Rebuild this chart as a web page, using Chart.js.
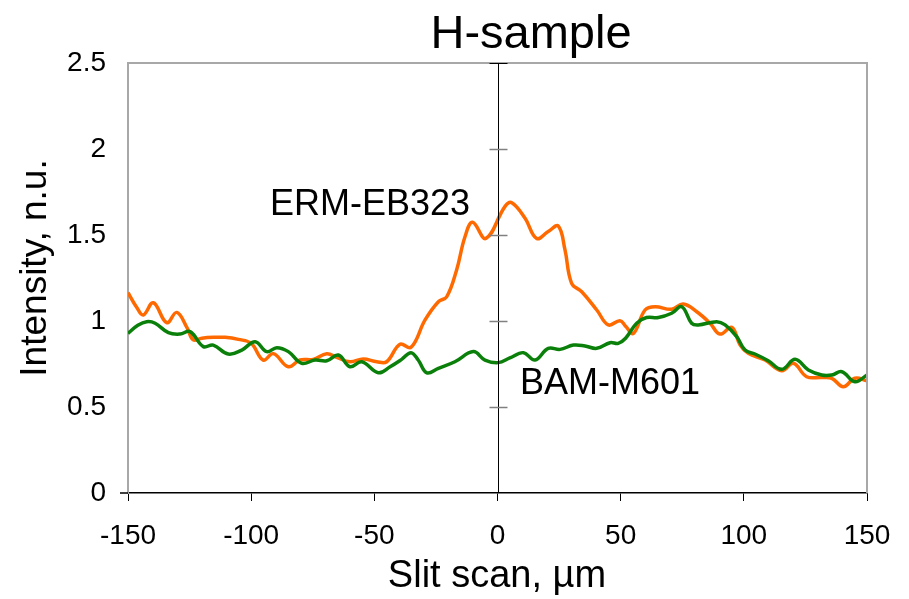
<!DOCTYPE html>
<html>
<head>
<meta charset="utf-8">
<title>H-sample</title>
<script src="https://cdn.jsdelivr.net/npm/chart.js@4.4.1/dist/chart.umd.min.js"></script>
<style>
  html, body { margin: 0; padding: 0; background: #fff; }
  #wrap { width: 909px; height: 599px; }
</style>
</head>
<body>
<div id="wrap"><canvas id="c" width="909" height="599"></canvas></div>
<script>
// H-sample slit scan: two profiles, ERM-EB323 (orange) and BAM-M601 (green)

const xTicks = [-150, -100, -50, 0, 50, 100, 150];
const yTicks = [0, 0.5, 1, 1.5, 2, 2.5];

const ermX = [-150, -146.5, -143.8, -139.7, -134.3, -130.2, -126, -123.5, -120, -115, -110.6, -105.2, -100,
  -95.1, -91, -84.9, -80.2, -74.8, -69.3, -65.3, -59.9, -54.5, -49, -45, -39.6, -35.1, -29.4, -24, -20.6,
  -16.6, -13.2, -10.1, -4.7, 3.0, 5.8, 11.2, 15.9, 20.6, 24.7, 27.4, 30.1, 34.2, 40.3, 45, 49.7, 52, 55.2,
  59.9, 64, 70.7, 75.4, 80.9, 86.3, 90.3, 95.1, 98.5, 101.8, 108.6, 115.4, 120.1, 125.5, 131.6, 135.7,
  140.4, 145.1, 150];
const ermY = [1.165, 1.08, 1.035, 1.106, 0.99, 1.05, 0.96, 0.89, 0.90, 0.905, 0.905, 0.893, 0.87,
  0.773, 0.81, 0.734, 0.773, 0.777, 0.81, 0.789, 0.763, 0.779, 0.763, 0.763, 0.865, 0.847, 1.006, 1.112, 1.141,
  1.297, 1.49, 1.574, 1.48, 1.665, 1.688, 1.597, 1.48, 1.52, 1.552, 1.413, 1.219, 1.17, 1.064, 0.977, 1.002, 0.97, 0.928,
  1.064, 1.083, 1.068, 1.099, 1.054, 0.987, 0.924, 0.963, 0.86, 0.812, 0.773, 0.711, 0.754, 0.676, 0.672, 0.667,
  0.618, 0.667, 0.653];

const bamX = [-150, -146, -142.4, -139, -133.6, -128.9, -124.8, -119.4, -115.4, -109.3, -103.8, -98.4, -93.7,
  -89.6, -84.9, -79.5, -74.1, -69.3, -64.6, -59.9, -55.1, -48.4, -43.6, -38.9, -35.1, -32.2, -28.7, -24, -17.3,
  -9.8, -5.1, 0.3, 5, 10.5, 15.2, 20.6, 25.4, 30.8, 35.5, 40.3, 45.7, 49, 52, 56.5, 60.5, 65.3, 70.7, 74.8,
  78.8, 81.5, 89, 92.4, 97.1, 100.5, 104.5, 109.9, 115.4, 120.8, 126.2, 131.6, 135.7, 139.8, 145.1, 150];
const bamY = [0.928, 0.975, 0.996, 0.987, 0.932, 0.924, 0.938, 0.851, 0.86, 0.808, 0.831, 0.88, 0.822,
  0.845, 0.822, 0.754, 0.773, 0.769, 0.802, 0.734, 0.763, 0.699, 0.734, 0.777, 0.816, 0.773, 0.699, 0.725, 0.763,
  0.822, 0.773, 0.758, 0.785, 0.816, 0.773, 0.841, 0.835, 0.86, 0.855, 0.841, 0.874, 0.87, 0.9, 0.987, 1.02, 1.02, 1.045, 1.083,
  0.987, 0.977, 0.996, 0.977, 0.909, 0.831, 0.808, 0.769, 0.719, 0.777, 0.715, 0.686, 0.686, 0.705, 0.647, 0.686];

const FONT = '"Liberation Sans", Arial, Helvetica, sans-serif';

// рамка, центральная ось с засечками, подписи
const decorPlugin = {
  id: 'decor',
  afterDraw(chart) {
    const { ctx, chartArea: a, scales } = chart;
    const xs = scales.x, ys = scales.y;
    ctx.save();
    // серые стороны рамки
    ctx.strokeStyle = '#a8a8a8';
    ctx.lineWidth = 2;
    ctx.beginPath();
    ctx.moveTo(a.left, a.top); ctx.lineTo(a.right, a.top); ctx.lineTo(a.right, a.bottom);
    ctx.stroke();
    // центральная вертикаль x=0
    const x0 = Math.round(xs.getPixelForValue(0)) + 0.5;
    ctx.strokeStyle = '#000';
    ctx.lineWidth = 1;
    ctx.beginPath();
    ctx.moveTo(x0, a.top); ctx.lineTo(x0, a.bottom);
    ctx.stroke();
    yTicks.forEach(v => {
      if (v === 0) return;
      const py = Math.round(ys.getPixelForValue(v)) + 0.5;
      ctx.strokeStyle = v === 2.5 ? '#000' : '#808080';
      ctx.lineWidth = v === 2.5 ? 1 : 1.5;
      ctx.beginPath();
      ctx.moveTo(x0 - 9, py); ctx.lineTo(x0 + 9, py);
      ctx.stroke();
    });
    // засечка слева у нуля
    ctx.strokeStyle = '#000';
    ctx.lineWidth = 1.5;
    ctx.beginPath();
    ctx.moveTo(a.left - 8, a.bottom); ctx.lineTo(a.left, a.bottom);
    ctx.stroke();

    ctx.fillStyle = '#000';
    ctx.textAlign = 'center';
    ctx.textBaseline = 'middle';
    ctx.font = '47px ' + FONT;
    ctx.fillText('H-sample', 531, 35);
    ctx.font = '38px ' + FONT;
    ctx.fillText('Slit scan, µm', 497, 577);
    ctx.font = '36px ' + FONT;
    ctx.fillText('ERM-EB323', 370, 205);
    ctx.fillText('BAM-M601', 610, 384);
    ctx.save();
    ctx.translate(36, 268);
    ctx.rotate(-Math.PI / 2);
    ctx.font = '37px ' + FONT;
    ctx.fillText('Intensity, n.u.', 0, 0);
    ctx.restore();
    ctx.restore();
  },
};

const toPts = (xa, ya) => xa.map((x, i) => ({ x, y: ya[i] }));

new Chart(document.getElementById('c').getContext('2d'), {
  type: 'line',
  data: {
    datasets: [
      {
        label: 'BAM-M601',
        data: toPts(bamX, bamY),
        borderColor: '#0a800a',
        borderWidth: 3.5,
        pointRadius: 0,
        tension: 0.4,
      },
      {
        label: 'ERM-EB323',
        data: toPts(ermX, ermY),
        borderColor: '#ff6a00',
        borderWidth: 3.5,
        pointRadius: 0,
        tension: 0.4,
      },
    ],
  },
  options: {
    responsive: false,
    animation: false,
    layout: { padding: { left: 0, right: 42, top: 63, bottom: 0 } },
    plugins: { legend: { display: false }, tooltip: { enabled: false } },
    scales: {
      x: {
        type: 'linear',
        min: -150,
        max: 150,
        afterBuildTicks: (s) => { s.ticks = xTicks.map(v => ({ value: v })); },
        afterFit: (s) => { s.height = 106; },
        grid: { drawOnChartArea: false, color: '#000', tickLength: 8, lineWidth: 1 },
        border: { color: '#000', width: 1.5 },
        ticks: { color: '#000', font: { size: 28, family: FONT }, padding: 18, maxRotation: 0 },
      },
      y: {
        min: 0,
        max: 2.5,
        afterBuildTicks: (s) => { s.ticks = yTicks.map(v => ({ value: v })); },
        afterFit: (s) => { s.width = 128; },
        grid: { drawOnChartArea: false, drawTicks: false },
        border: { color: '#a8a8a8', width: 2 },
        ticks: { color: '#000', font: { size: 28, family: FONT }, padding: 22, callback: (v) => String(v) },
      },
    },
  },
  plugins: [decorPlugin],
});
</script>
</body>
</html>
